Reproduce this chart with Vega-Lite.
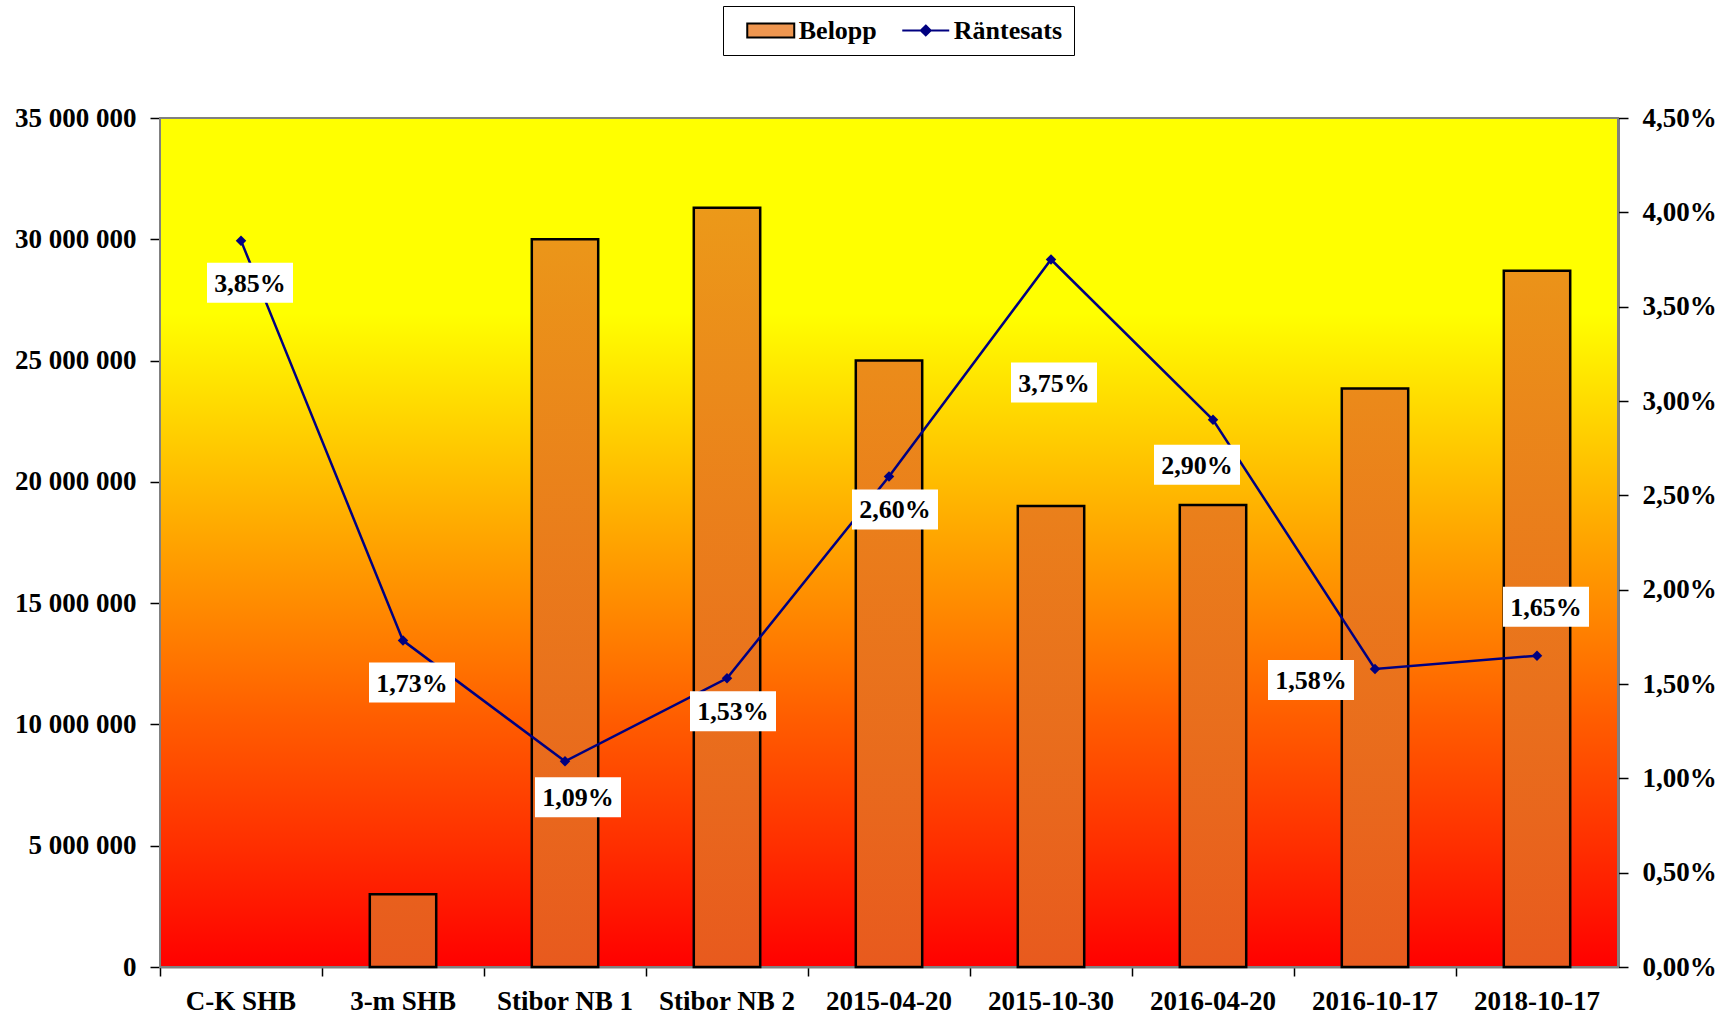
{
  "$schema": "https://vega.github.io/schema/vega-lite/v6.json",
  "width": 1458,
  "height": 849,
  "autosize": {"type": "none"},
  "padding": {"left": 160, "top": 118, "right": 115, "bottom": 47},
  "background": "white",
  "config": {
    "locale": {"number": {"decimal": ",", "thousands": " ", "grouping": [3], "currency": ["", " kr"]}},
    "view": {"stroke": null},
    "font": "Liberation Serif",
    "axis": {
      "labelFont": "Liberation Serif", "labelFontSize": 27, "labelFontWeight": "bold", "labelColor": "#000000",
      "tickColor": "#000000", "tickWidth": 1.5, "domainColor": "#000000", "domainWidth": 2, "grid": false, "title": null
    }
  },
  "datasets": {
    "loans": [
      {"cat": "C-K SHB", "belopp": null, "rate": 0.0385},
      {"cat": "3-m SHB", "belopp": 3000000, "rate": 0.0173},
      {"cat": "Stibor NB 1", "belopp": 30000000, "rate": 0.0109},
      {"cat": "Stibor NB 2", "belopp": 31300000, "rate": 0.0153},
      {"cat": "2015-04-20", "belopp": 25000000, "rate": 0.026},
      {"cat": "2015-10-30", "belopp": 19000000, "rate": 0.0375},
      {"cat": "2016-04-20", "belopp": 19050000, "rate": 0.029},
      {"cat": "2016-10-17", "belopp": 23850000, "rate": 0.0158},
      {"cat": "2018-10-17", "belopp": 28700000, "rate": 0.0165}
    ]
  },
  "data": {"name": "loans"},
  "layer": [
    {
      "data": {"values": [{"bg": 1}]},
      "mark": {
        "type": "rect",
        "stroke": "#808080",
        "strokeWidth": 2,
        "fill": {
          "gradient": "linear", "x1": 0, "y1": 0, "x2": 0, "y2": 1,
          "stops": [
            {"offset": 0, "color": "#FFFF00"},
            {"offset": 0.23, "color": "#FFFF00"},
            {"offset": 0.43, "color": "#FFBB00"},
            {"offset": 0.57, "color": "#FF8C00"},
            {"offset": 0.71, "color": "#FF5C00"},
            {"offset": 0.86, "color": "#FF2E00"},
            {"offset": 1, "color": "#FF0000"}
          ]
        }
      },
      "encoding": {}
    },
    {
      "mark": {
        "type": "bar",
        "width": {"band": 0.41},
        "stroke": "#000000",
        "strokeWidth": 2.5,
        "fill": {"expr": "{gradient: 'linear', x1: 0, y1: 0, x2: 0, y2: 1, stops: [{offset: 0, color: 'rgb(' + round(232 + 4 * datum.belopp / 35000000) + ',' + round(90 + 70 * datum.belopp / 35000000) + ',' + round(30 - 6 * datum.belopp / 35000000) + ')'}, {offset: 1, color: '#E85A1E'}]}"}
      },
      "encoding": {
        "x": {
          "field": "cat", "type": "nominal", "sort": null,
          "scale": {"domain": ["C-K SHB", "3-m SHB", "Stibor NB 1", "Stibor NB 2", "2015-04-20", "2015-10-30", "2016-04-20", "2016-10-17", "2018-10-17"], "paddingInner": 0, "paddingOuter": 0},
          "axis": {"labelAngle": 0, "bandPosition": 0, "tickSize": 9, "labelPadding": 12, "domainColor": "#808080"}
        },
        "y": {
          "field": "belopp", "type": "quantitative",
          "scale": {"domain": [0, 35000000], "nice": false},
          "axis": {"orient": "left", "values": [0, 5000000, 10000000, 15000000, 20000000, 25000000, 30000000, 35000000], "format": ",.0f", "tickSize": 10, "labelPadding": 14}
        }
      }
    },
    {
      "encoding": {
        "x": {"field": "cat", "type": "nominal", "sort": null},
        "y": {
          "field": "rate", "type": "quantitative",
          "scale": {"domain": [0, 0.045], "nice": false},
          "axis": {"orient": "right", "values": [0, 0.005, 0.01, 0.015, 0.02, 0.025, 0.03, 0.035, 0.04, 0.045], "format": ".2%", "tickSize": 10, "labelPadding": 14}
        }
      },
      "layer": [
        {
          "mark": {"type": "line", "strokeWidth": 2.5, "stroke": "#000080"},
          "encoding": {}
        },
        {
          "mark": {"type": "point", "shape": "diamond", "filled": true, "size": 110, "opacity": 1},
          "encoding": {
            "fill": {
              "datum": "Räntesats",
              "scale": {"domain": ["Belopp", "Räntesats"], "range": ["#EE9650", "#000080"]},
              "legend": {
                "title": null,
                "orient": "none",
                "legendX": 563,
                "legendY": -112,
                "direction": "horizontal",
                "padding": 11.5,
                "strokeColor": "#000000",
                "fillColor": "#FFFFFF",
                "symbolSize": 552,
                "symbolOffset": 23.25,
                "symbolStrokeWidth": 2,
                "symbolOpacity": 1,
                "symbolType": {"expr": "datum.value === 'Belopp' ? 'M-2,-0.6H2V0.6H-2Z' : 'M-2,0H2M0,-0.42L0.42,0L0,0.42L-0.42,0Z'"},
                "symbolStrokeColor": {"expr": "datum.value === 'Belopp' ? '#000000' : '#000080'"},
                "labelOffset": 15,
                "columnPadding": 12,
                "labelFont": "Liberation Serif",
                "labelFontSize": 26,
                "labelFontWeight": "bold",
                "labelColor": "#000000"
              }
            }
          }
        },
        {
          "transform": [{"filter": "datum.cat === 'C-K SHB' || datum.cat === '3-m SHB'"}],
          "layer": [
            {"mark": {"type": "point", "shape": "M-2.15,-1H2.15V1H-2.15Z", "size": 1600, "filled": true, "color": "#FFFFFF", "opacity": 1, "xOffset": 9, "yOffset": 42}},
            {"mark": {"type": "text", "font": "Liberation Serif", "fontSize": 26, "fontWeight": "bold", "color": "#000000", "baseline": "middle", "align": "center", "xOffset": 9, "yOffset": 43}, "encoding": {"text": {"field": "rate", "format": ".2%"}}}
          ]
        },
        {
          "transform": [{"filter": "datum.cat === 'Stibor NB 1'"}],
          "layer": [
            {"mark": {"type": "point", "shape": "M-2.15,-1H2.15V1H-2.15Z", "size": 1600, "filled": true, "color": "#FFFFFF", "opacity": 1, "xOffset": 13, "yOffset": 36}},
            {"mark": {"type": "text", "font": "Liberation Serif", "fontSize": 26, "fontWeight": "bold", "color": "#000000", "baseline": "middle", "align": "center", "xOffset": 13, "yOffset": 37}, "encoding": {"text": {"field": "rate", "format": ".2%"}}}
          ]
        },
        {
          "transform": [{"filter": "datum.cat === 'Stibor NB 2' || datum.cat === '2015-04-20'"}],
          "layer": [
            {"mark": {"type": "point", "shape": "M-2.15,-1H2.15V1H-2.15Z", "size": 1600, "filled": true, "color": "#FFFFFF", "opacity": 1, "xOffset": 6, "yOffset": 33}},
            {"mark": {"type": "text", "font": "Liberation Serif", "fontSize": 26, "fontWeight": "bold", "color": "#000000", "baseline": "middle", "align": "center", "xOffset": 6, "yOffset": 34}, "encoding": {"text": {"field": "rate", "format": ".2%"}}}
          ]
        },
        {
          "transform": [{"filter": "datum.cat === '2015-10-30'"}],
          "layer": [
            {"mark": {"type": "point", "shape": "M-2.15,-1H2.15V1H-2.15Z", "size": 1600, "filled": true, "color": "#FFFFFF", "opacity": 1, "xOffset": 3, "yOffset": 123}},
            {"mark": {"type": "text", "font": "Liberation Serif", "fontSize": 26, "fontWeight": "bold", "color": "#000000", "baseline": "middle", "align": "center", "xOffset": 3, "yOffset": 124}, "encoding": {"text": {"field": "rate", "format": ".2%"}}}
          ]
        },
        {
          "transform": [{"filter": "datum.cat === '2016-04-20'"}],
          "layer": [
            {"mark": {"type": "point", "shape": "M-2.15,-1H2.15V1H-2.15Z", "size": 1600, "filled": true, "color": "#FFFFFF", "opacity": 1, "xOffset": -16, "yOffset": 45}},
            {"mark": {"type": "text", "font": "Liberation Serif", "fontSize": 26, "fontWeight": "bold", "color": "#000000", "baseline": "middle", "align": "center", "xOffset": -16, "yOffset": 46}, "encoding": {"text": {"field": "rate", "format": ".2%"}}}
          ]
        },
        {
          "transform": [{"filter": "datum.cat === '2016-10-17'"}],
          "layer": [
            {"mark": {"type": "point", "shape": "M-2.15,-1H2.15V1H-2.15Z", "size": 1600, "filled": true, "color": "#FFFFFF", "opacity": 1, "xOffset": -64, "yOffset": 11}},
            {"mark": {"type": "text", "font": "Liberation Serif", "fontSize": 26, "fontWeight": "bold", "color": "#000000", "baseline": "middle", "align": "center", "xOffset": -64, "yOffset": 12}, "encoding": {"text": {"field": "rate", "format": ".2%"}}}
          ]
        },
        {
          "transform": [{"filter": "datum.cat === '2018-10-17'"}],
          "layer": [
            {"mark": {"type": "point", "shape": "M-2.15,-1H2.15V1H-2.15Z", "size": 1600, "filled": true, "color": "#FFFFFF", "opacity": 1, "xOffset": 9, "yOffset": -49}},
            {"mark": {"type": "text", "font": "Liberation Serif", "fontSize": 26, "fontWeight": "bold", "color": "#000000", "baseline": "middle", "align": "center", "xOffset": 9, "yOffset": -48}, "encoding": {"text": {"field": "rate", "format": ".2%"}}}
          ]
        }
      ]
    }
  ],
  "resolve": {"scale": {"y": "independent"}}
}
